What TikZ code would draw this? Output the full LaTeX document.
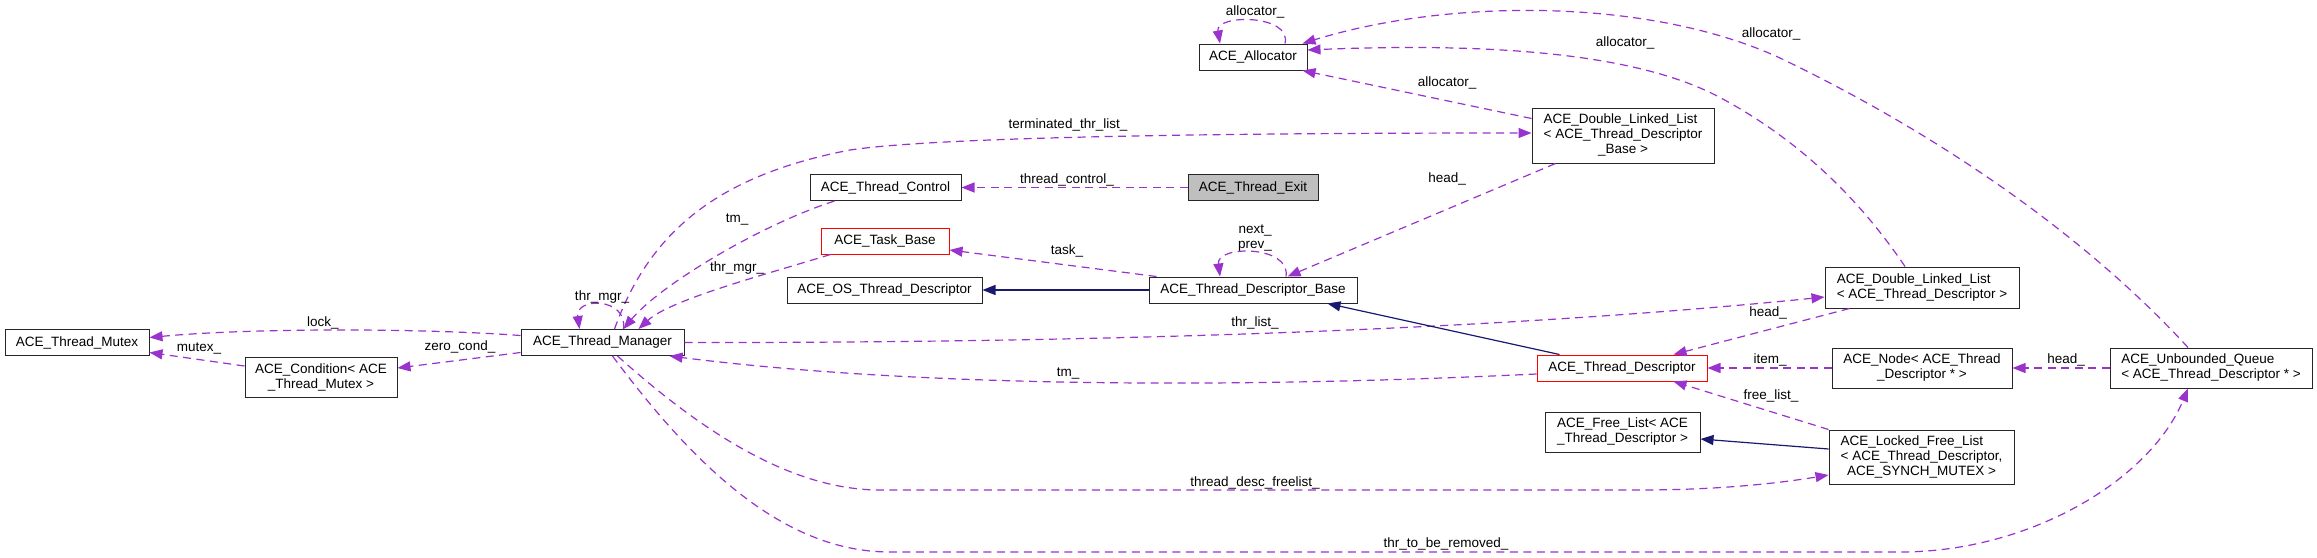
\documentclass[tikz,border=0pt]{standalone}
\usepackage{fontspec}
\setmainfont{Liberation Sans}
\usetikzlibrary{arrows.meta,calc}
\definecolor{usec}{RGB}{154,50,205}
\definecolor{inhc}{RGB}{25,25,112}
\definecolor{gry}{RGB}{191,191,191}
\begin{document}
\begin{tikzpicture}[x=1pt,y=-1pt,
  every node/.style={font=\fontsize{13.5}{15}\selectfont},
  cls/.style={draw=black!85,line width=1pt,fill=white,inner sep=0pt,minimum height=26pt},
  lbl/.style={inner sep=0pt},
  usedge/.style={draw=usec,line width=1.2pt,dash pattern=on 8pt off 5.5pt,-{Triangle[length=13pt,width=10pt]}},
  inhedge/.style={draw=inhc,line width=1.2pt,-{Triangle[length=13pt,width=10pt]}}]
\useasboundingbox[fill=white] (0,0) rectangle (2317,557);

% nodes
\node[cls,minimum width=144pt] (mutex) at (77,342.5) {ACE\_Thread\_Mutex};
\node[cls,minimum width=152pt,minimum height=40pt,align=center] (cond) at (321,377) {ACE\_Condition< ACE\\\_Thread\_Mutex >};
\node[cls,minimum width=163pt] (mgr) at (602.5,342.5) {ACE\_Thread\_Manager};
\node[cls,minimum width=108pt] (alloc) at (1253,57) {ACE\_Allocator};
\node[cls,minimum width=182pt,minimum height=55pt] (dllb) at (1623,135.5) {\begin{tabular}{@{}l@{}}ACE\_Double\_Linked\_List\\< ACE\_Thread\_Descriptor\\\multicolumn{1}{@{}c@{}}{\_Base >}\end{tabular}};
\node[cls,minimum width=151pt] (tctl) at (885.5,187.5) {ACE\_Thread\_Control};
\node[cls,fill=gry,minimum width=130pt] (texit) at (1253,187.5) {ACE\_Thread\_Exit};
\node[cls,draw=red,minimum width=128pt] (task) at (885,241) {ACE\_Task\_Base};
\node[cls,minimum width=208pt] (tdb) at (1253,290) {ACE\_Thread\_Descriptor\_Base};
\node[cls,minimum width=195pt] (ostd) at (884.5,290) {ACE\_OS\_Thread\_Descriptor};
\node[cls,minimum width=194pt,minimum height=41pt,align=left] (dlltd) at (1922,287.5) {ACE\_Double\_Linked\_List\\< ACE\_Thread\_Descriptor >};
\node[cls,draw=red,minimum width=170pt] (td) at (1622,368) {ACE\_Thread\_Descriptor};
\node[cls,minimum width=180pt,minimum height=40pt,align=center] (nodeb) at (1922,368) {ACE\_Node< ACE\_Thread\\\_Descriptor * >};
\node[cls,minimum width=202pt,minimum height=40pt,align=left] (queue) at (2211,368) {ACE\_Unbounded\_Queue\\< ACE\_Thread\_Descriptor * >};
\node[cls,minimum width=155pt,minimum height=40pt,align=center] (fl) at (1622.5,432) {ACE\_Free\_List< ACE\\\_Thread\_Descriptor >};
\node[cls,minimum width=185pt,minimum height=54pt] (lfl) at (1921.5,457) {\begin{tabular}{@{}l@{}}ACE\_Locked\_Free\_List\\< ACE\_Thread\_Descriptor,\\\multicolumn{1}{@{}c@{}}{ACE\_SYNCH\_MUTEX >}\end{tabular}};

% usage edges
\draw[usedge] ($(mgr.west)+(0,-7)$) .. controls (420,328) and (250,328) .. ($(mutex.east)+(0,-5)$);
\draw[usedge] ($(cond.west)+(0,-11)$) -- ($(mutex.east)+(0,10)$);
\draw[usedge] ($(mgr.west)+(0,10)$) -- ($(cond.east)+(0,-9)$);
\draw[usedge] ($(mgr.north)+(21,0)$) .. controls (628,297) and (575,297) .. ($(mgr.north)+(-23,0)$);
\draw[usedge] ($(tctl.south west)+(25,0)$) .. controls (760,225) and (660,285) .. ($(mgr.north)+(21,0)$);
\draw[usedge] ($(task.south west)+(10,0)$) .. controls (760,276) and (670,300) .. ($(mgr.north)+(36,0)$);
\draw[usedge] ($(mgr.north)+(12,0)$) .. controls (650,230) and (720,175) .. (850,150) .. controls (950,135) and (1300,133) .. ($(dllb.west)+(0,-2.5)$);
\draw[usedge] (texit.west) -- (tctl.east);
\draw[usedge] ($(dllb.north west)+(0,11)$) -- ($(alloc.south east)+(-5,0)$);
\draw[usedge] ($(alloc.north)+(32,0)$) .. controls (1292,14) and (1215,14) .. ($(alloc.north)+(-33,0)$);
\draw[usedge] ($(dlltd.north)+(-17,0)$) .. controls (1860,200) and (1800,140) .. (1719,97) .. controls (1640,55) and (1500,42) .. ($(alloc.east)+(0,-7)$);
\draw[usedge] ($(queue.north)+(-23,0)$) .. controls (2080,230) and (1930,130) .. (1780,58) .. controls (1650,-2) and (1450,-2) .. ($(alloc.north east)+(-5,0)$);
\draw[usedge] ($(dllb.south west)+(24,0)$) -- ($(tdb.north east)+(-70,0)$);
\draw[usedge] ($(tdb.north)+(33,0)$) .. controls (1291,245) and (1216,245) .. ($(tdb.north)+(-33,0)$);
\draw[usedge] ($(tdb.north west)+(8,0)$) -- ($(task.east)+(0,9)$);
\draw[usedge] (mgr.east) .. controls (1100,343) and (1500,330) .. ($(dlltd.west)+(0,9.5)$);
\draw[usedge] ($(td.west)+(0,6)$) .. controls (1200,390) and (900,385) .. ($(mgr.south east)+(-15,0)$);
\draw[usedge] ($(dlltd.south west)+(25,0)$) -- ($(td.north east)+(-34,0)$);
\draw[usedge] (nodeb.west) -- (td.east);
\draw[usedge] (queue.west) -- (nodeb.east);
\draw[usedge] (lfl.north west) -- ($(td.south east)+(-34,0)$);
\draw[usedge] ($(mgr.south)+(15,0)$) .. controls (700,430) and (790,490) .. (880,490) -- (1640,490) .. controls (1720,490) and (1780,483) .. ($(lfl.west)+(0,18)$);
\draw[usedge] ($(mgr.south)+(10,0)$) .. controls (690,460) and (780,552) .. (890,552) -- (1900,552) .. controls (2030,552) and (2150,480) .. ($(queue.south)+(-23,0)$);

% inheritance edges
\draw[inhedge] (tdb.west) -- (ostd.east);
\draw[inhedge] ($(td.north west)+(23,0)$) -- ($(tdb.south east)+(-30,0)$);
\draw[inhedge] ($(lfl.west)+(0,-8)$) -- ($(fl.east)+(0,7)$);

% labels
\node[lbl] (l1) at (323,323) {lock\_};
\node[lbl] (l2) at (199,348) {mutex\_};
\node[lbl] (l3) at (460,347) {zero\_cond\_};
\node[lbl] (l4) at (602,297) {thr\_mgr\_};
\node[lbl] (l5) at (737,219) {tm\_};
\node[lbl] (l6) at (737,268) {thr\_mgr\_};
\node[lbl] (l7) at (1068,125) {terminated\_thr\_list\_};
\node[lbl] (l8) at (1067,180) {thread\_control\_};
\node[lbl] (l9) at (1255,12) {allocator\_};
\node[lbl] (l10) at (1447,83) {allocator\_};
\node[lbl] (l11) at (1625,43) {allocator\_};
\node[lbl] (l12) at (1771,34) {allocator\_};
\node[lbl] (l13) at (1447,179) {head\_};
\node[lbl,align=center] (l14) at (1255,238) {next\_\\prev\_};
\node[lbl] (l15) at (1067,251) {task\_};
\node[lbl] (l16) at (1255,323) {thr\_list\_};
\node[lbl] (l17) at (1068,373) {tm\_};
\node[lbl] (l18) at (1768,313) {head\_};
\node[lbl] (l19) at (1770,360) {item\_};
\node[lbl] (l20) at (2066,360) {head\_};
\node[lbl] (l21) at (1771,396) {free\_list\_};
\node[lbl] (l22) at (1255,483) {thread\_desc\_freelist\_};
\node[lbl] (l23) at (1446,544) {thr\_to\_be\_removed\_};
\end{tikzpicture}
\end{document}
